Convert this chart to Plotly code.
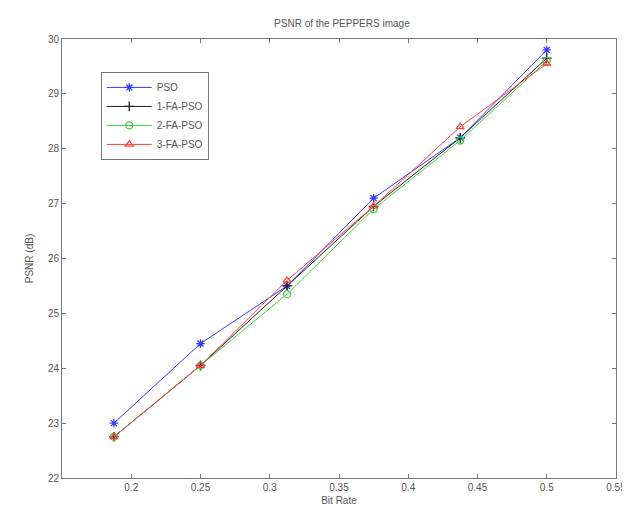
import plotly.graph_objects as go

bit_rate = [0.1875, 0.25, 0.3125, 0.375, 0.4375, 0.5]
pso = [23.0, 24.45, 25.5, 27.1, 28.2, 29.8]
fa1 = [22.75, 24.05, 25.5, 26.95, 28.2, 29.65]
fa2 = [22.75, 24.05, 25.35, 26.9, 28.15, 29.6]
fa3 = [22.75, 24.05, 25.6, 26.95, 28.4, 29.55]

x_ticks = [0.2, 0.25, 0.3, 0.35, 0.4, 0.45, 0.5, 0.55]
x_tick_labels = ["0.2", "0.25", "0.3", "0.35", "0.4", "0.45", "0.5", "0.55"]
y_ticks = [22, 23, 24, 25, 26, 27, 28, 29, 30]

series = [
    ("PSO", pso, "#3a3aff", "asterisk-open"),
    ("1-FA-PSO", fa1, "#202020", "cross-thin-open"),
    ("2-FA-PSO", fa2, "#40d040", "circle-open"),
    ("3-FA-PSO", fa3, "#ff4040", "triangle-up-open"),
]

fig = go.Figure()
for name, vals, color, sym in series:
    fig.add_trace(go.Scatter(
        x=bit_rate, y=vals, name=name, mode="lines+markers",
        line=dict(color=color, width=1),
        marker=dict(symbol=sym, size=7, color=color, line=dict(color=color, width=1.3)),
    ))

font = dict(family="Liberation Sans, Arial", size=10, color="#555555")

axis_common = dict(
    showgrid=False, zeroline=False, showline=True, linecolor="#777777", linewidth=1,
    mirror="ticks", ticks="inside", ticklen=4, tickcolor="#777777",
    tickfont=font,
)

fig.update_layout(
    width=630, height=510,
    margin=dict(l=54, r=15, t=31, b=40),
    paper_bgcolor="white", plot_bgcolor="white",
    title=dict(text="PSNR of the PEPPERS image", x=0.53, xanchor="center", y=0.97, yanchor="middle",
               font=font),
    xaxis=dict(range=[0.15, 0.55], tickvals=x_ticks, ticktext=x_tick_labels,
               title=dict(text="Bit Rate", standoff=4, font=font),
               **axis_common),
    yaxis=dict(range=[22, 30], tickvals=y_ticks,
               title=dict(text="PSNR (dB)", standoff=12, font=font),
               **axis_common),
    legend=dict(x=0.07, y=0.925, xanchor="left", yanchor="top",
                bordercolor="#777777", borderwidth=1, bgcolor="white",
                font=font, tracegroupgap=0, itemwidth=45),
    showlegend=True,
)

fig.write_html("out.html")
